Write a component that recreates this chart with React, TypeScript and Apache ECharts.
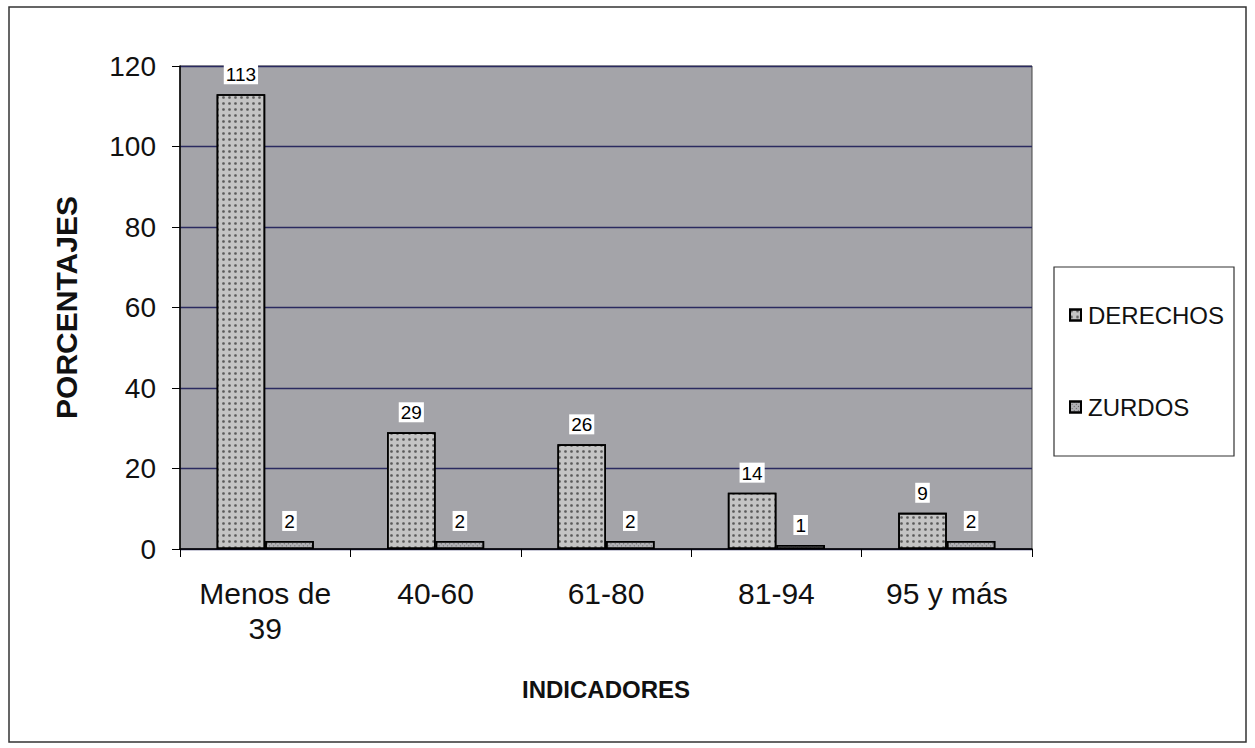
import React, { useEffect, useRef } from "react";
import * as echarts from "echarts";

const categories = ["Menos de\n39", "40-60", "61-80", "81-94", "95 y más"];
const derechos = [113, 29, 26, 14, 9];
const zurdos = [2, 2, 2, 1, 2];
const yTicks = { min: 0, max: 120, interval: 20 };

export default function App() {
  const ref = useRef<HTMLDivElement>(null);
  useEffect(() => {
    const chart = echarts.init(ref.current!, null, { renderer: "svg" });
    const font = "Arial, 'Liberation Sans', sans-serif";
    const labelStyle = {
      show: true,
      position: "top" as const,
      distance: 10,
      color: "#000",
      fontFamily: font,
      fontSize: 19,
      backgroundColor: "#fff",
      padding: [1, 2, 0, 2],
    };
    chart.setOption({
      animation: false,
      backgroundColor: "#fff",
      textStyle: { fontFamily: font },
      graphic: [
        {
          type: "rect",
          shape: { x: 9, y: 7, width: 1237, height: 735 },
          style: { fill: "none", stroke: "#333", lineWidth: 1.5 },
          z: 100,
        },
        {
          type: "rect",
          shape: { x: 1054, y: 267, width: 180, height: 189 },
          style: { fill: "#fff", stroke: "#333", lineWidth: 1.2 },
          z: 0,
        },
      ],
      legend: {
        data: ["DERECHOS", "ZURDOS"],
        orient: "vertical",
        left: 1064,
        top: 298,
        itemWidth: 11,
        itemHeight: 11,
        itemGap: 68,
        icon: "rect",
        textStyle: { fontSize: 24, color: "#111", padding: [0, 0, 0, 2], fontFamily: font },
        z: 10,
      },
      grid: {
        left: 180,
        top: 66,
        right: 223,
        bottom: 199,
        show: true,
        backgroundColor: "#a4a4a9",
        borderColor: "#444",
        borderWidth: 1,
      },
      xAxis: {
        type: "category",
        data: categories,
        name: "INDICADORES",
        nameLocation: "middle",
        nameGap: 128,
        nameTextStyle: { fontSize: 24, fontWeight: "bold", color: "#111", fontFamily: font },
        axisLine: { lineStyle: { color: "#000", width: 1.5 } },
        axisTick: { show: true, length: 8, interval: 0, lineStyle: { color: "#000" } },
        axisLabel: {
          interval: 0,
          hideOverlap: false,
          fontSize: 30,
          color: "#111",
          margin: 27,
          lineHeight: 35,
          fontFamily: font,
        },
      },
      yAxis: {
        type: "value",
        min: yTicks.min,
        max: yTicks.max,
        interval: yTicks.interval,
        name: "PORCENTAJES",
        nameLocation: "middle",
        nameGap: 99,
        nameTextStyle: { fontSize: 30, fontWeight: "bold", color: "#111", fontFamily: font },
        axisLine: { show: true, lineStyle: { color: "#000", width: 1.5 } },
        axisTick: { show: true, length: 8, lineStyle: { color: "#000" } },
        axisLabel: { fontSize: 28, color: "#111", margin: 24, fontFamily: font },
        splitLine: { lineStyle: { color: "#2a2a60", width: 1.3 } },
      },
      series: [
        {
          name: "DERECHOS",
          type: "bar",
          data: derechos,
          barGap: "0%",
          barCategoryGap: "43%",
          itemStyle: {
            color: "#c4c4c4",
            borderColor: "#000",
            borderWidth: 1.6,
            decal: {
              symbol: "circle",
              symbolSize: 0.9,
              color: "rgba(20,20,20,0.6)",
              dashArrayX: 3,
              dashArrayY: 3,
              rotation: 0,
            },
          },
          label: labelStyle,
        },
        {
          name: "ZURDOS",
          type: "bar",
          data: zurdos,
          itemStyle: {
            color: "#b0b0b4",
            borderColor: "#000",
            borderWidth: 1.6,
            decal: {
              symbol: "rect",
              symbolSize: 1,
              color: "rgba(20,20,20,0.5)",
              dashArrayX: [1, 2],
              dashArrayY: [1, 2],
              rotation: Math.PI / 4,
            },
          },
          label: labelStyle,
        },
      ],
    });
    return () => chart.dispose();
  }, []);
  return (
    <div
      ref={ref}
      style={{ position: "fixed", left: 0, top: 0, width: 1255, height: 748 }}
    />
  );
}
